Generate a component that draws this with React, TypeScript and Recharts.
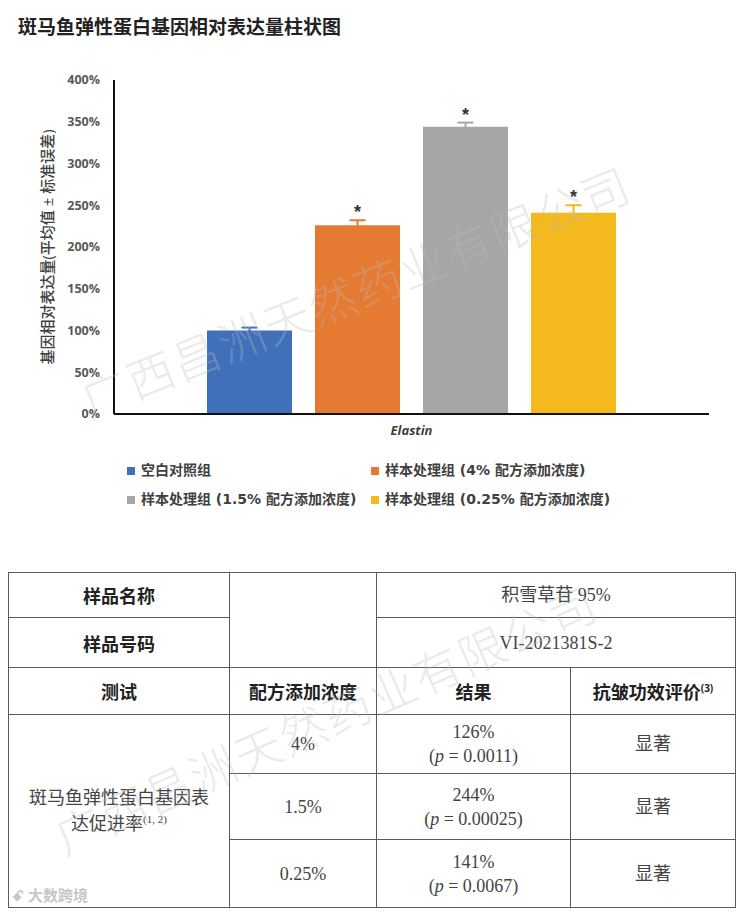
import React from "react";
import {
  BarChart,
  Bar,
  XAxis,
  YAxis,
  ErrorBar,
  LabelList,
  Legend,
} from "recharts";

// chart values
const categories = ["Elastin"];
const seriesNames = [
  "空白对照组",
  "样本处理组 (4% 配方添加浓度)",
  "样本处理组 (1.5% 配方添加浓度)",
  "样本处理组 (0.25% 配方添加浓度)",
];
const seriesValues = [100, 226, 344, 241];
const seriesErrors = [3.5, 6, 5, 9];
const significant = [false, true, true, true];
const yTicks = [0, 50, 100, 150, 200, 250, 300, 350, 400];

// table values
const concentrations = ["4%", "1.5%", "0.25%"];
const resultValues = ["126%", "244%", "141%"];
const pValues = ["0.0011", "0.00025", "0.0067"];
const evaluations = ["显著", "显著", "显著"];

const COLORS = ["#4170bb", "#e57a33", "#a6a6a6", "#f4b91d"];

const data = categories.map((name) => {
  const row: Record<string, string | number> = { name };
  seriesValues.forEach((v, i) => {
    row[`s${i}`] = v;
    row[`e${i}`] = seriesErrors[i];
  });
  return row;
});

const SANS = '"Open Sans", "Noto Sans CJK SC", sans-serif';
const SERIF = '"Liberation Serif", "Noto Sans CJK SC", serif';

function Star(props: any, idx: number) {
  const { x, y, width, height, value } = props;
  if (!significant[idx] || !value) return null;
  const errPx = (seriesErrors[idx] / value) * height;
  return (
    <text
      x={x + width / 2}
      y={y - errPx - 12 + 10}
      textAnchor="middle"
      fontSize={18}
      fontWeight="bold"
      fontFamily='"Liberation Sans", sans-serif'
      fill="#333"
    >
      *
    </text>
  );
}

function LegendBox() {
  return (
    <div
      style={{
        display: "grid",
        gridTemplateColumns: "244px 330px",
        paddingLeft: 127,
        paddingTop: 12,
        fontFamily: '"DejaVu Sans", "Noto Sans CJK SC", sans-serif',
        fontSize: 14,
        fontWeight: 600,
        color: "#404040",
        lineHeight: "29px",
        textAlign: "left",
      }}
    >
      {seriesNames.map((n, i) => (
        <div key={n} style={{ display: "flex", alignItems: "center", whiteSpace: "nowrap" }}>
          <span
            style={{
              width: 8,
              height: 8,
              background: COLORS[i],
              marginRight: 6,
              display: "inline-block",
            }}
          />
          {n}
        </div>
      ))}
    </div>
  );
}

const watermark: React.CSSProperties = {
  position: "absolute",
  fontFamily: SERIF,
  fontSize: 47,
  fontWeight: 300,
  color: "rgba(190,190,190,0.32)",
  whiteSpace: "nowrap",
  pointerEvents: "none",
  transformOrigin: "center center",
  letterSpacing: 2,
};

const cell: React.CSSProperties = {
  border: "1.5px solid #5a5a5a",
  textAlign: "center",
  verticalAlign: "middle",
  padding: 0,
};
const headCell: React.CSSProperties = {
  ...cell,
  fontFamily: SANS,
  fontWeight: "bold",
  fontSize: 18,
  color: "#222",
};
const dataCell: React.CSSProperties = {
  ...cell,
  fontFamily: SERIF,
  fontSize: 18,
  color: "#444",
  lineHeight: "24px",
};

export default function App() {
  return (
    <div
      style={{
        position: "absolute",
        left: 0,
        top: 0,
        width: 742,
        height: 917,
        background: "#fff",
        overflow: "hidden",
      }}
    >
      <div
        style={{
          position: "absolute",
          left: 18,
          top: 12,
          fontFamily: SANS,
          fontWeight: "bold",
          fontSize: 19,
          color: "#222",
        }}
      >
        斑马鱼弹性蛋白基因相对表达量柱状图
      </div>

      <div style={{ position: "absolute", left: 0, top: 0 }}>
        <BarChart
          width={742}
          height={520}
          data={data}
          margin={{ top: 80, right: 33, left: 0, bottom: 0 }}
          barSize={85}
          barGap={23}
        >
          <XAxis
            dataKey="name"
            axisLine={{ stroke: "#111", strokeWidth: 2 }}
            tickLine={false}
            height={30}
            tickMargin={6}
            tick={{
              fontFamily: SANS,
              fontSize: 13,
              fontStyle: "italic",
              fontWeight: "bold",
              fill: "#404040",
            }}
          />
          <YAxis
            width={114}
            domain={[0, 400]}
            ticks={yTicks}
            tickFormatter={(v) => `${v}%`}
            axisLine={{ stroke: "#111", strokeWidth: 2 }}
            tickLine={false}
            tickMargin={8}
            tick={{ fontFamily: SANS, fontSize: 12.5, fontWeight: "bold", fill: "#595959" }}
            label={{
              value: "基因相对表达量(平均值 ± 标准误差)",
              angle: -90,
              position: "insideLeft",
              offset: 48,
              style: {
                textAnchor: "middle",
                fontFamily: SANS,
                fontSize: 15,
                fontWeight: 500,
                fill: "#404040",
              },
            }}
          />
          <Legend
            verticalAlign="bottom"
            content={() => <LegendBox />}
            wrapperStyle={{ height: 76, left: 0, width: 742 }}
          />
          {seriesNames.map((n, i) => (
            <Bar
              key={n}
              dataKey={`s${i}`}
              name={n}
              fill={COLORS[i]}
              isAnimationActive={false}
            >
              <ErrorBar
                dataKey={`e${i}`}
                stroke={COLORS[i]}
                strokeWidth={2}
                width={8}
                isAnimationActive={false}
              />
              <LabelList dataKey={`s${i}`} content={(p: any) => Star(p, i)} />
            </Bar>
          ))}
        </BarChart>
      </div>

      <table
        style={{
          position: "absolute",
          left: 8,
          top: 572,
          width: 727,
          borderCollapse: "collapse",
          tableLayout: "fixed",
        }}
      >
        <colgroup>
          <col style={{ width: 221 }} />
          <col style={{ width: 147 }} />
          <col style={{ width: 194 }} />
          <col style={{ width: 165 }} />
        </colgroup>
        <tbody>
          <tr style={{ height: 45 }}>
            <td style={headCell}>样品名称</td>
            <td style={cell} rowSpan={2}></td>
            <td style={dataCell} colSpan={2}>积雪草苷 95%</td>
          </tr>
          <tr style={{ height: 50 }}>
            <td style={headCell}>样品号码</td>
            <td style={dataCell} colSpan={2}>VI-2021381S-2</td>
          </tr>
          <tr style={{ height: 47 }}>
            <td style={headCell}>测试</td>
            <td style={headCell}>配方添加浓度</td>
            <td style={headCell}>结果</td>
            <td style={headCell}>
              抗皱功效评价<sup style={{ fontSize: 10 }}>(3)</sup>
            </td>
          </tr>
          {concentrations.map((c, i) => (
            <tr key={c} style={{ height: [59, 66, 68][i] }}>
              {i === 0 && (
                <td style={{ ...dataCell, lineHeight: "26px" }} rowSpan={3}>
                  斑马鱼弹性蛋白基因表
                  <br />
                  达促进率<sup style={{ fontSize: 11, lineHeight: 0 }}>(1, 2)</sup>
                </td>
              )}
              <td style={dataCell}>{c}</td>
              <td style={dataCell}>
                {resultValues[i]}
                <br />(<i>p</i> = {pValues[i]})
              </td>
              <td style={dataCell}>{evaluations[i]}</td>
            </tr>
          ))}
        </tbody>
      </table>

      <div
        style={{
          ...watermark,
          left: 55,
          top: 255,
          width: 600,
          textAlign: "center",
          transform: "rotate(-22deg)",
        }}
      >
        广西昌洲天然药业有限公司
      </div>
      <div
        style={{
          ...watermark,
          left: 25,
          top: 683,
          width: 600,
          textAlign: "center",
          transform: "rotate(-24deg)",
        }}
      >
        广西昌洲天然药业有限公司
      </div>
      <div
        style={{
          position: "absolute",
          left: 12,
          top: 884,
          fontFamily: SANS,
          fontSize: 15,
          fontWeight: "bold",
          color: "rgba(160,160,160,0.6)",
        }}
      >
        ꗃ 大数跨境
      </div>
    </div>
  );
}
